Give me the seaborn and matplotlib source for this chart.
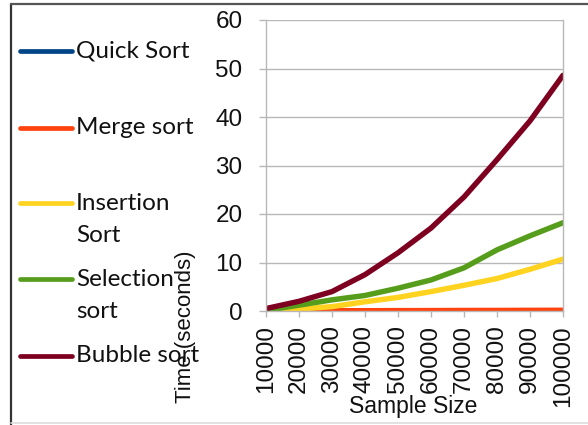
import matplotlib
matplotlib.use("Agg")
import matplotlib.pyplot as plt
from matplotlib.lines import Line2D
import numpy as np
import pandas as pd
import seaborn as sns

# Sample sizes (x categories) and measured run times in seconds
sample_sizes = [10000, 20000, 30000, 40000, 50000, 60000, 70000, 80000, 90000, 100000]
quick_sort = [0.01, 0.01, 0.02, 0.02, 0.03, 0.03, 0.04, 0.04, 0.05, 0.05]
merge_sort = [0.02, 0.03, 0.05, 0.06, 0.08, 0.09, 0.11, 0.12, 0.14, 0.15]
insertion_sort = [0.1, 0.4, 0.9, 1.9, 2.8, 4.0, 5.3, 6.7, 8.6, 10.7]
selection_sort = [0.1, 1.2, 2.3, 3.2, 4.7, 6.4, 8.9, 12.6, 15.5, 18.2]
bubble_sort = [0.5, 2.0, 4.0, 7.5, 12.0, 17.1, 23.5, 31.2, 39.2, 48.6]

series_names = ["Quick Sort", "Merge sort", "Insertion\nSort", "Selection\nsort", "Bubble sort"]
series_values = [quick_sort, merge_sort, insertion_sort, selection_sort, bubble_sort]
series_colors = ["#004586", "#ff420e", "#ffd320", "#579d1c", "#7e0021"]
y_ticks = [0, 10, 20, 30, 40, 50, 60]

rows = []
for name, vals in zip(series_names, series_values):
    for i, v in enumerate(vals):
        rows.append({"pos": i, "size": sample_sizes[i], "time": v, "algorithm": name})
df = pd.DataFrame(rows)

sns.set_theme(style="white")
plt.rcParams["font.family"] = ["Liberation Sans", "DejaVu Sans"]

W, H = 588, 425
fig = plt.figure(figsize=(W / 100, H / 100), dpi=100)
ax = fig.add_axes([266 / W, 1 - 311 / H, (563 - 266) / W, (311 - 20) / H])

sns.lineplot(data=df, x="pos", y="time", hue="algorithm", hue_order=series_names,
             palette=series_colors, linewidth=3.9, legend=False, ax=ax, sort=False)
for line in ax.get_lines():
    line.set_solid_capstyle("round")
    line.set_solid_joinstyle("round")

grid_c = "#b8b8b8"
ax.set_xlim(0, len(sample_sizes) - 1)
ax.set_ylim(0, 60)
ax.set_yticks(y_ticks)
ax.set_xticks(range(len(sample_sizes)))
ax.set_xticklabels([str(s) for s in sample_sizes], rotation=90)
ax.yaxis.grid(True, color=grid_c, linewidth=1)
ax.set_axisbelow(True)
for side in ["left", "right", "bottom"]:
    ax.spines[side].set_color(grid_c)
    ax.spines[side].set_linewidth(1)
ax.spines["top"].set_visible(False)
ax.tick_params(axis="y", which="major", direction="out", length=5, width=1,
               color=grid_c, pad=12, labelsize=17.5, labelcolor="#111111", left=True)
ax.tick_params(axis="x", which="major", direction="out", length=4, width=1,
               color=grid_c, pad=6, labelsize=17.5, labelcolor="#111111", bottom=True)
ax.set_xlabel("")
ax.set_ylabel("")

fig.text(413 / W, 1 - 406 / H, "Sample Size", ha="center", va="center",
         fontsize=16.5, color="#111111")
fig.text(185 / W, 1 - 327 / H, "Time (seconds)", ha="center", va="center",
         rotation=90, fontsize=16, color="#111111")

# Legend on the left side; wrapped labels continue on a second line below the key
legend_y = [51, 128, 203, 279, 356]
line_gap = 32
for name, color, y in zip(series_names, series_colors, legend_y):
    fig.add_artist(Line2D([20 / W, 72 / W], [1 - y / H, 1 - y / H], color=color,
                          linewidth=3.4, solid_capstyle="round",
                          transform=fig.transFigure))
    for k, part in enumerate(name.split("\n")):
        fig.text(76 / W, 1 - (y + k * line_gap) / H, part, ha="left", va="center",
                 fontsize=17.5, family=["Lato", "DejaVu Sans"], color="#111111")

# Outer frame
fig.add_artist(Line2D([11 / W, 11 / W], [0, 1 - 4 / H], color="#333333", linewidth=1.6,
                      transform=fig.transFigure))
fig.add_artist(Line2D([11 / W, 1], [1 - 4 / H, 1 - 4 / H], color="#555555", linewidth=1.6,
                      transform=fig.transFigure))
fig.add_artist(Line2D([11 / W, 1], [1 - 423 / H, 1 - 423 / H], color="#dddddd", linewidth=1.2,
                      transform=fig.transFigure))

fig.savefig("out.png", dpi=100)
